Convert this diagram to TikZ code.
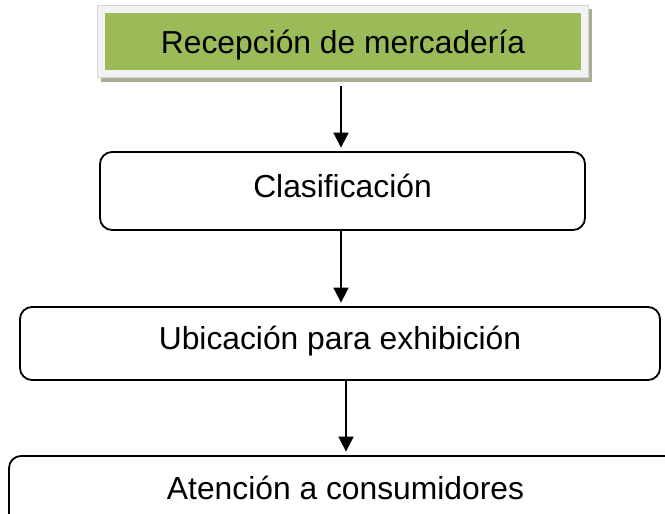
\documentclass[tikz,border=0pt]{standalone}
\usepackage{fontspec}
\setmainfont{Liberation Sans}
\usetikzlibrary{arrows.meta}
\definecolor{olivegreen}{HTML}{9BBB59}
\definecolor{shadowgreen}{HTML}{A7B095}
\definecolor{framegray}{HTML}{F2F2F2}
\definecolor{frameline}{HTML}{D6D6D6}
\begin{document}
\begin{tikzpicture}[x=1pt,y=-1pt,
  every node/.style={font=\fontsize{31.8}{38}\selectfont, inner sep=0pt},
  flowbox/.style={draw=black, line width=1.8pt, rounded corners=12pt, fill=white,
     text height=23pt, text depth=11pt},
  greenbox/.style={fill=olivegreen, text height=23pt, text depth=0pt},
  flowarrow/.style={line width=1.8pt, -{Triangle[width=15pt,length=15pt]}, shorten >=3.5pt}
]
\clip (0,0) rectangle (665,514);
% shadow and frame of the top box
\fill[shadowgreen] (101,9) rectangle (592,82);
\filldraw[fill=framegray, draw=frameline, line width=0.6pt] (97,5) rectangle (588,77);
\node[greenbox, minimum width=476pt, minimum height=57pt] (rec) at (343,41.5) {Recepción de mercadería};
\node[flowbox, minimum width=485pt, minimum height=78pt] (cla) at (342.5,191) {Clasificación};
\node[flowbox, minimum width=640pt, minimum height=73pt] (ubi) at (340,343.5) {Ubicación para exhibición};
\node[flowbox, minimum width=673pt, minimum height=74pt] (ate) at (345.5,493) {Atención a consumidores};
\draw[flowarrow] ([xshift=-2pt,yshift=-16pt]rec.south) -- ([xshift=-1.5pt]cla.north);
\draw[flowarrow] ([xshift=-1.5pt]cla.south) -- ([xshift=1pt]ubi.north);
\draw[flowarrow] ([xshift=6pt]ubi.south) -- ([xshift=0.5pt]ate.north);
\end{tikzpicture}
\end{document}
